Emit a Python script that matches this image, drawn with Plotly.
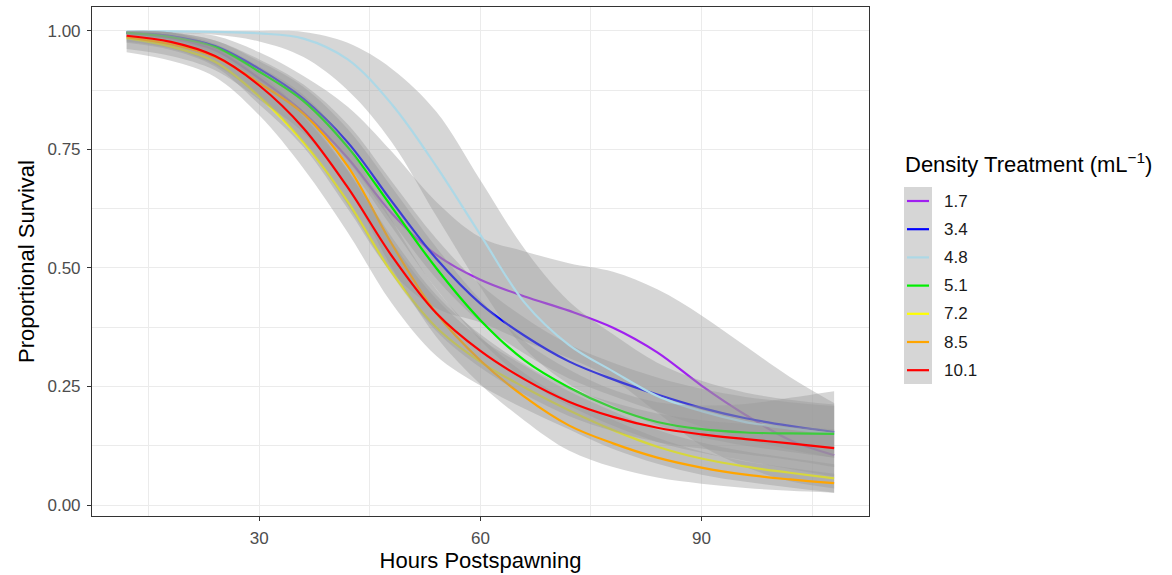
import plotly.graph_objects as go

# ---------------- data ----------------
hours = [12, 18, 24, 30, 36, 42, 48, 54, 60, 66, 72, 78, 84, 90, 96, 102, 108]

treatments = ["1.7", "3.4", "4.8", "5.1", "7.2", "8.5", "10.1"]
line_colors = ["#A020F0", "#0000FF", "#ADD8E6", "#00EE00", "#FFFF00", "#FFA500", "#FF0000"]

fit_1_7 = [0.995, 0.985, 0.960, 0.900, 0.828, 0.732, 0.615, 0.528, 0.475, 0.440, 0.410, 0.374, 0.322, 0.252, 0.190, 0.137, 0.105]
hi_1_7 = [1.000, 0.998, 0.990, 0.955, 0.905, 0.840, 0.745, 0.640, 0.565, 0.535, 0.510, 0.492, 0.455, 0.400, 0.335, 0.270, 0.215]
lo_1_7 = [0.975, 0.960, 0.925, 0.845, 0.755, 0.625, 0.490, 0.415, 0.385, 0.345, 0.310, 0.265, 0.195, 0.125, 0.080, 0.050, 0.035]

fit_3_4 = [0.997, 0.989, 0.968, 0.920, 0.857, 0.765, 0.640, 0.520, 0.425, 0.357, 0.303, 0.265, 0.233, 0.205, 0.183, 0.167, 0.154]
hi_3_4 = [1.000, 0.997, 0.980, 0.940, 0.887, 0.803, 0.682, 0.562, 0.465, 0.395, 0.339, 0.300, 0.269, 0.245, 0.228, 0.217, 0.209]
lo_3_4 = [0.992, 0.981, 0.956, 0.900, 0.827, 0.727, 0.598, 0.478, 0.385, 0.319, 0.267, 0.230, 0.197, 0.165, 0.138, 0.117, 0.099]

fit_4_8 = [0.999, 0.999, 0.998, 0.995, 0.984, 0.940, 0.845, 0.715, 0.570, 0.427, 0.338, 0.282, 0.230, 0.198, 0.175, 0.161, 0.150]
hi_4_8 = [1.000, 1.000, 1.000, 1.000, 0.998, 0.975, 0.920, 0.830, 0.685, 0.540, 0.430, 0.360, 0.300, 0.262, 0.237, 0.222, 0.212]
lo_4_8 = [0.997, 0.996, 0.992, 0.978, 0.945, 0.875, 0.765, 0.610, 0.460, 0.330, 0.255, 0.210, 0.168, 0.143, 0.125, 0.112, 0.100]

fit_5_1 = [0.996, 0.987, 0.966, 0.914, 0.852, 0.755, 0.628, 0.500, 0.390, 0.305, 0.248, 0.205, 0.175, 0.160, 0.153, 0.151, 0.150]
hi_5_1 = [1.000, 0.997, 0.980, 0.936, 0.882, 0.793, 0.670, 0.544, 0.433, 0.345, 0.286, 0.243, 0.217, 0.210, 0.213, 0.226, 0.240]
lo_5_1 = [0.988, 0.977, 0.952, 0.892, 0.822, 0.717, 0.586, 0.456, 0.347, 0.265, 0.210, 0.167, 0.133, 0.110, 0.093, 0.076, 0.060]

fit_7_2 = [0.985, 0.967, 0.935, 0.862, 0.765, 0.640, 0.490, 0.375, 0.302, 0.248, 0.200, 0.158, 0.123, 0.098, 0.081, 0.068, 0.056]
hi_7_2 = [1.000, 0.997, 0.967, 0.902, 0.820, 0.705, 0.555, 0.435, 0.352, 0.293, 0.240, 0.198, 0.159, 0.132, 0.113, 0.099, 0.086]
lo_7_2 = [0.955, 0.937, 0.903, 0.822, 0.710, 0.575, 0.425, 0.315, 0.252, 0.203, 0.160, 0.118, 0.087, 0.064, 0.049, 0.037, 0.026]

fit_8_5 = [0.987, 0.972, 0.945, 0.890, 0.825, 0.715, 0.550, 0.405, 0.305, 0.228, 0.168, 0.130, 0.100, 0.079, 0.064, 0.054, 0.046]
hi_8_5 = [1.000, 0.997, 0.973, 0.925, 0.865, 0.760, 0.600, 0.455, 0.355, 0.278, 0.221, 0.180, 0.142, 0.113, 0.092, 0.078, 0.066]
lo_8_5 = [0.962, 0.947, 0.917, 0.855, 0.785, 0.670, 0.500, 0.355, 0.255, 0.178, 0.115, 0.080, 0.058, 0.045, 0.036, 0.030, 0.026]

fit_10_1 = [0.990, 0.977, 0.947, 0.885, 0.795, 0.670, 0.525, 0.405, 0.325, 0.265, 0.218, 0.186, 0.163, 0.149, 0.139, 0.130, 0.120]
hi_10_1 = [1.000, 0.991, 0.965, 0.910, 0.827, 0.707, 0.565, 0.443, 0.360, 0.297, 0.248, 0.216, 0.193, 0.179, 0.171, 0.165, 0.160]
lo_10_1 = [0.978, 0.963, 0.929, 0.860, 0.763, 0.633, 0.485, 0.367, 0.290, 0.233, 0.188, 0.156, 0.133, 0.119, 0.107, 0.095, 0.080]

series = [
    (fit_1_7, lo_1_7, hi_1_7),
    (fit_3_4, lo_3_4, hi_3_4),
    (fit_4_8, lo_4_8, hi_4_8),
    (fit_5_1, lo_5_1, hi_5_1),
    (fit_7_2, lo_7_2, hi_7_2),
    (fit_8_5, lo_8_5, hi_8_5),
    (fit_10_1, lo_10_1, hi_10_1),
]

# ---------------- style ----------------
FONT = "Liberation Sans, Arial, Helvetica, sans-serif"
RIBBON = "rgba(153,153,153,0.4)"
GRID = "#ebebeb"
FRAME = "#333333"

fig = go.Figure()

for name, col, (fit, lo, hi) in zip(treatments, line_colors, series):
    fig.add_trace(go.Scatter(
        x=hours, y=lo, mode="lines", line=dict(width=0, shape="spline", smoothing=1),
        showlegend=False, hoverinfo="skip"))
    fig.add_trace(go.Scatter(
        x=hours, y=hi, mode="lines", line=dict(width=0, shape="spline", smoothing=1),
        fill="tonexty", fillcolor=RIBBON, showlegend=False, hoverinfo="skip"))
    fig.add_trace(go.Scatter(
        x=hours, y=fit, mode="lines", name=name,
        line=dict(color=col, width=2.2, shape="spline", smoothing=1),
        showlegend=False))

# plot area in pixels: left 92, right 869, top 7, bottom 516
W, H = 1172, 575
L, R, T, B = 92, 869, 7, 516


def px_x(px):
    return (px - L) / (R - L)


def px_y(py):
    return (B - py) / (B - T)


# ---------------- manual legend (ggplot-style) ----------------
shapes = [dict(type="rect", xref="paper", yref="paper",
               x0=px_x(904), x1=px_x(932), y0=px_y(384), y1=px_y(187),
               fillcolor="#d6d6d6", line=dict(width=0), layer="below")]
annotations = [dict(xref="paper", yref="paper", x=px_x(903), y=px_y(163),
                    xanchor="left", yanchor="middle", showarrow=False,
                    text="Density Treatment (mL<sup>−1</sup>)",
                    font=dict(family=FONT, size=22, color="#000000"))]
for i, (name, col) in enumerate(zip(treatments, line_colors)):
    yy = px_y(201 + 28.2 * i)
    shapes.append(dict(type="line", xref="paper", yref="paper",
                       x0=px_x(907), x1=px_x(929), y0=yy, y1=yy,
                       line=dict(color=col, width=2.2)))
    annotations.append(dict(xref="paper", yref="paper", x=px_x(942), y=yy,
                            xanchor="left", yanchor="middle", showarrow=False,
                            text=name, font=dict(family=FONT, size=17, color="#1a1a1a")))

fig.update_layout(
    width=W, height=H,
    margin=dict(l=L, r=W - R, t=T, b=H - B, pad=0),
    paper_bgcolor="white", plot_bgcolor="white",
    font=dict(family=FONT, size=17, color="#4d4d4d"),
    showlegend=False,
    shapes=shapes,
    annotations=annotations,
    xaxis=dict(
        range=[7.3, 112.73], tickmode="linear", tick0=0, dtick=30,
        automargin=False,
        showgrid=True, gridcolor=GRID, gridwidth=1.1, zeroline=False,
        showline=True, mirror=True, linecolor=FRAME, linewidth=1.1,
        ticks="outside", ticklen=4, tickwidth=1.1, tickcolor=FRAME,
        ticklabelstandoff=3,
        tickfont=dict(family=FONT, size=17, color="#4d4d4d"),
        minor=dict(dtick=15, tick0=0, showgrid=True, gridcolor=GRID, gridwidth=0.55, ticks=""),
        title=dict(text="Hours Postspawning", standoff=2,
                   font=dict(family=FONT, size=22, color="#000000")),
    ),
    yaxis=dict(
        range=[-0.0232, 1.0506], tickmode="linear", tick0=0, dtick=0.25, tickformat=".2f",
        automargin=False,
        showgrid=True, gridcolor=GRID, gridwidth=1.1, zeroline=False,
        showline=True, mirror=True, linecolor=FRAME, linewidth=1.1,
        ticks="outside", ticklen=4, tickwidth=1.1, tickcolor=FRAME,
        ticklabelstandoff=3,
        tickfont=dict(family=FONT, size=17, color="#4d4d4d"),
        minor=dict(dtick=0.125, tick0=0, showgrid=True, gridcolor=GRID, gridwidth=0.55, ticks=""),
        title=dict(text="Proportional Survival", standoff=6,
                   font=dict(family=FONT, size=22, color="#000000")),
    ),
)

fig.write_html("out.html", config={"displayModeBar": False},
               post_script="document.body.style.margin='0px';")
